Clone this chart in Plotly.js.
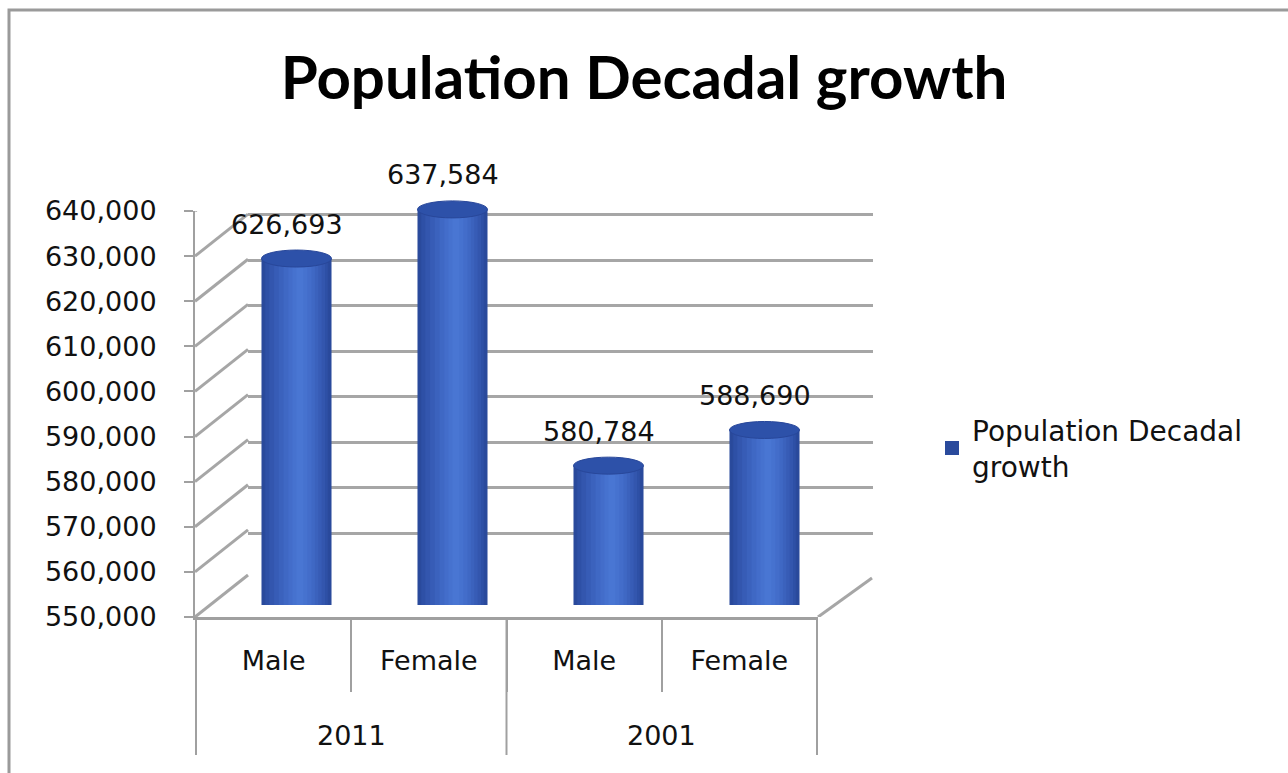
<!DOCTYPE html>
<html>
<head>
<meta charset="utf-8">
<script src="https://cdn.plot.ly/plotly-3.0.1.min.js"></script>
<style>
  html, body { margin: 0; padding: 0; background: #ffffff; }
  #chart { width: 1288px; height: 773px; }
</style>
</head>
<body>
<div id="chart"></div>
<script>
// ---------------- data ----------------
const chartTitle = "Population Decadal growth";
const seriesName = "Population Decadal growth";
const years = ["2011", "2011", "2001", "2001"];
const sexes = ["Male", "Female", "Male", "Female"];
const population = [626693, 637584, 580784, 588690];
const yTickValues = [550000, 560000, 570000, 580000, 590000, 600000, 610000, 620000, 630000, 640000];
const yRange = [550000, 640000];

// ---------------- layout helpers ----------------
const W = 1288, H = 773;
const fx = px => px / W;
const fy = py => 1 - py / H;

const gridColor = "#a6a6a6";
const lineColor = "#a0a0a0";
const textFont = { family: "DejaVu Sans", size: 27, color: "#111111" };

// category keys (one per bar) and year groups
const barKeys = years.map((y, i) => y + " " + sexes[i]);
const yearGroups = [];
years.forEach((y, i) => {
  const last = yearGroups[yearGroups.length - 1];
  if (last && last.year === y) { last.end = i; }
  else { yearGroups.push({ year: y, start: i, end: i }); }
});

// cylinder shading layers (fractions of the cylinder width, shift as fraction)
const cylW = 0.436;
const layers = [
  { f: 1.00, s: 0.00, c: "#2a4a9c" },
  { f: 0.92, s: 0.00, c: "#2e50a6" },
  { f: 0.82, s: 0.01, c: "#3356ae" },
  { f: 0.70, s: 0.02, c: "#375cb6" },
  { f: 0.58, s: 0.03, c: "#3b62bd" },
  { f: 0.46, s: 0.04, c: "#3f68c4" },
  { f: 0.34, s: 0.05, c: "#436dca" },
  { f: 0.22, s: 0.05, c: "#4672cf" },
  { f: 0.10, s: 0.05, c: "#4976d3" }
];

const traces = [];

// invisible trace to build the front category axis
traces.push({
  type: "bar",
  x: barKeys,
  y: population,
  xaxis: "x", yaxis: "y",
  marker: { color: "rgba(0,0,0,0)" },
  hoverinfo: "skip",
  showlegend: false
});

// empty trace to keep the back wall subplot
traces.push({
  type: "scatter", mode: "markers",
  x: [], y: [],
  xaxis: "x2", yaxis: "y2",
  showlegend: false, hoverinfo: "skip"
});

layers.forEach((L, i) => {
  const w = cylW * L.f;
  traces.push({
    type: "bar",
    name: seriesName.replace("Decadal ", "Decadal<br>"),
    x: barKeys,
    y: population,
    xaxis: "x3", yaxis: "y3",
    width: w,
    offset: -w / 2 + L.s * cylW,
    marker: { color: L.c, line: { width: i === 0 ? 2 : 0, color: L.c } },
    showlegend: i === 0,
    hoverinfo: i === 0 ? "x+y" : "skip"
  });
});

const shapes = [];
// outer chart border
shapes.push({
  type: "rect", xref: "paper", yref: "paper",
  x0: fx(9), x1: fx(1300), y0: fy(790), y1: fy(10),
  line: { color: "#9a9a9a", width: 3 }, fillcolor: "rgba(0,0,0,0)", layer: "below"
});
// left wall diagonals (one per tick value)
yTickValues.forEach(v => {
  shapes.push({
    type: "line", xref: "paper", yref: "y",
    xsizemode: "pixel", xanchor: fx(195), x0: 0, x1: 53,
    ysizemode: "pixel", yanchor: v, y0: 0, y1: 42,
    line: { color: gridColor, width: 3 }
  });
});
// floor right diagonal
shapes.push({
  type: "line", xref: "paper", yref: "y",
  xsizemode: "pixel", xanchor: fx(818), x0: 0, x1: 54,
  ysizemode: "pixel", yanchor: yRange[0], y0: 0, y1: 39,
  line: { color: gridColor, width: 3 }
});
// year group dividers (long) at group boundaries
const groupBounds = [yearGroups[0].start - 0.5].concat(yearGroups.map(g => g.end + 0.5));
groupBounds.forEach(b => {
  shapes.push({
    type: "line", xref: "x", yref: "paper",
    x0: b, x1: b, y0: fy(755), y1: fy(617),
    line: { color: lineColor, width: 2 }
  });
});
// cylinder tops
barKeys.forEach((k, i) => {
  shapes.push({
    type: "circle", xref: "x3", yref: "y3",
    xsizemode: "pixel", xanchor: k, x0: -35, x1: 35,
    ysizemode: "pixel", yanchor: population[i], y0: -8, y1: 9,
    fillcolor: "#2d51a9", line: { color: "#28479a", width: 1 },
    layer: "above"
  });
});

// value labels
const annotations = barKeys.map((k, i) => ({
  xref: "x3", yref: "y3", x: k, y: population[i],
  text: population[i].toLocaleString("en-US"),
  showarrow: false, yshift: 35, xshift: -10,
  font: textFont
}));
// year labels
yearGroups.forEach(g => {
  annotations.push({
    xref: "x", yref: "paper",
    x: (g.start + g.end) / 2, y: fy(735),
    yanchor: "middle",
    text: g.year, showarrow: false,
    font: textFont
  });
});

const layout = {
  width: W, height: H,
  margin: { l: 0, r: 0, t: 0, b: 0 },
  paper_bgcolor: "#ffffff",
  plot_bgcolor: "rgba(0,0,0,0)",
  barmode: "overlay",
  title: {
    text: "<b>" + chartTitle + "</b>",
    x: 0.5, xanchor: "center",
    y: fy(78), yanchor: "middle",
    font: { family: "Lato", size: 60, color: "#000000" }
  },
  showlegend: true,
  legend: {
    x: fx(932), xanchor: "left",
    y: fy(405), yanchor: "top",
    font: { family: "DejaVu Sans", size: 28, color: "#111111" },
    bgcolor: "rgba(0,0,0,0)"
  },
  xaxis: {
    domain: [fx(195), fx(818)],
    type: "category",
    categoryorder: "array", categoryarray: barKeys,
    tickvals: barKeys, ticktext: sexes,
    anchor: "y",
    showline: true, linecolor: lineColor, linewidth: 3,
    ticks: "outside", tickson: "boundaries", ticklen: 72,
    tickcolor: lineColor, tickwidth: 2,
    ticklabelstandoff: 18,
    showgrid: false, zeroline: false,
    tickfont: textFont,
    fixedrange: true
  },
  yaxis: {
    domain: [fy(617), fy(211)],
    anchor: "x",
    range: yRange,
    tickvals: yTickValues,
    tickformat: ",",
    ticks: "outside", ticklen: 9, tickcolor: lineColor, tickwidth: 2,
    showline: true, linecolor: lineColor, linewidth: 2,
    showgrid: false, zeroline: false,
    ticklabelstandoff: 22,
    tickfont: textFont,
    fixedrange: true
  },
  xaxis2: {
    domain: [fx(248), fx(873)],
    anchor: "y2", range: [0, 1],
    visible: false, showgrid: false, zeroline: false
  },
  yaxis2: {
    domain: [fy(579), fy(169)],
    anchor: "x2",
    range: yRange,
    tickvals: yTickValues,
    showticklabels: false, ticks: "",
    showgrid: true, gridcolor: gridColor, gridwidth: 3,
    zeroline: false, showline: false
  },
  xaxis3: {
    domain: [fx(218.5), fx(842.5)],
    anchor: "y3", type: "category",
    visible: false, showgrid: false, zeroline: false
  },
  yaxis3: {
    domain: [fy(605), fy(199)],
    anchor: "x3",
    range: yRange,
    visible: false, showgrid: false, zeroline: false
  },
  shapes: shapes,
  annotations: annotations
};

Plotly.newPlot("chart", traces, layout, { displayModeBar: false, staticPlot: true });
</script>
</body>
</html>
